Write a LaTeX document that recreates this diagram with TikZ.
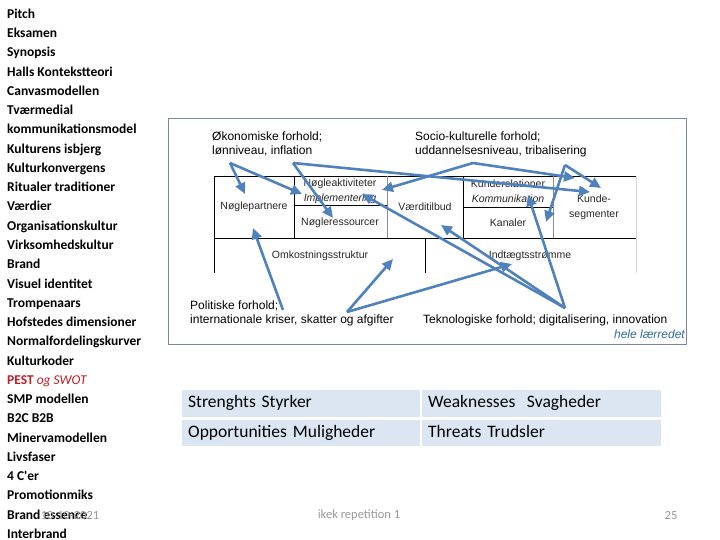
\documentclass[tikz,border=0pt]{standalone}
\usepackage{fontspec}
\setmainfont{Liberation Sans}
\newfontfamily\calib{Carlito}
\usetikzlibrary{arrows.meta}
\definecolor{pilblaa}{RGB}{79,129,189}
\definecolor{rammegraa}{RGB}{120,135,155}
\definecolor{swotfyld}{RGB}{220,230,242}
\definecolor{pestrod}{RGB}{192,30,40}
\definecolor{laerred}{RGB}{49,110,150}
\tikzset{
  pil/.style={draw=pilblaa, line width=2.6pt, -{Triangle[length=11pt,width=10pt]}},
  emne/.style={anchor=base west, inner sep=0pt, font=\calib\bfseries\fontsize{13.5}{14}\selectfont},
  faktor/.style={anchor=west, inner sep=0pt, align=left, font=\fontsize{12}{14}\selectfont},
  felt/.style={inner sep=0pt, align=center, text=black!85, font=\fontsize{10.5}{15}\selectfont},
  swot/.style={fill=swotfyld, anchor=north west, text width=226pt, inner xsep=6pt, inner ysep=0pt,
    minimum height=27pt, text height=12pt, text depth=4pt, font=\calib\fontsize{17.5}{20}\selectfont},
  fod/.style={inner sep=0pt, text=black!40, font=\calib\fontsize{12.5}{14}\selectfont},
}
\begin{document}
\begin{tikzpicture}[x=1pt,y=-1pt]
  \useasboundingbox (0,0) rectangle (720,540);

  % emneliste
  \foreach \emnetekst [count=\i from 0] in {Pitch, Eksamen, Synopsis, Halls Kontekstteori,
      Canvasmodellen, Tværmedial, kommunikationsmodel, Kulturens isbjerg, Kulturkonvergens,
      Ritualer traditioner, Værdier, Organisationskultur, Virksomhedskultur, Brand,
      Visuel identitet, Trompenaars, Hofstedes dimensioner, Normalfordelingskurver,
      Kulturkoder, {{\color{pestrod}PEST \mdseries\itshape og SWOT}}, SMP modellen,
      B2C B2B, Minervamodellen, Livsfaser, 4 C'er, Promotionmiks, Brand essence, Interbrand}
    \node[emne] (emne\i) at (7,{18.5+19.25*\i}) {\emnetekst};

  % ramme om PEST
  \draw[rammegraa, line width=1pt] (168,119) rectangle (686,344);

  % canvas
  \draw[black, line width=0.8pt] (214,273) -- (214,176) -- (636,176);
  \draw[black, line width=0.8pt] (214,238) -- (636,238);
  \draw[black, line width=0.8pt] (294,176) -- (294,238);
  \draw[black, line width=1pt] (294,206) -- (387,206);
  \draw[black!45, line width=0.8pt] (387,176) -- (387,238);
  \draw[black, line width=0.8pt] (463,176) -- (463,238);
  \draw[black, line width=0.8pt] (463,207) -- (553,207);
  \draw[black!45, line width=0.8pt] (553,176) -- (553,238);
  \draw[black!15, line width=0.8pt] (636,176) -- (636,273);
  \draw[black, line width=0.8pt] (425,238) -- (425,273);

  \node[felt] (partnere) at (254,207) {Nøglepartnere};
  \node[felt] (aktiviteter) at (340,191) {Nøgleaktiviteter\\\textit{Implementering}};
  \node[felt] (ressourcer) at (340,223) {Nøgleressourcer};
  \node[felt] (tilbud) at (425,207) {Værditilbud};
  \node[felt] (relationer) at (508,191) {Kunderelationer\\\textit{Kommunikation}};
  \node[felt] (kanaler) at (508,223) {Kanaler};
  \node[felt] (segmenter) at (594,207) {Kunde-\\segmenter};
  \node[felt] (omkostninger) at (320,256) {Omkostningsstruktur};
  \node[felt] (indtaegter) at (530,256) {Indtægtsstrømme};

  % PEST-faktorer
  \node[faktor] (oekonomi) at (212,144) {Økonomiske forhold;\\lønniveau, inflation};
  \node[faktor] (socio) at (415,144) {Socio-kulturelle forhold;\\uddannelsesniveau, tribalisering};
  \node[faktor] (politik) at (190,313) {Politiske forhold;\\internationale kriser, skatter og afgifter};
  \node[faktor] (teknologi) at (423,320) {Teknologiske forhold; digitalisering, innovation};
  \node[faktor, anchor=east, text=laerred, font=\fontsize{12}{14}\selectfont\itshape] (laerredet) at (685,334) {hele lærredet};

  % pile
  \coordinate (oekA) at (230,163);
  \coordinate (oekB) at (293,163);
  \coordinate (socA) at (473,163);
  \coordinate (socB) at (565,165);
  \coordinate (polA) at (283,310);
  \coordinate (polB) at (347,312);
  \coordinate (tekA) at (565,308);
  \coordinate (tPartnere) at (245,194);
  \coordinate (tImplA) at (302,194);
  \coordinate (tRessourcer) at (333,218);
  \coordinate (tSegmA) at (590,192);
  \coordinate (tAktiv) at (382,190);
  \coordinate (tSegmB) at (575,178);
  \coordinate (tKanaler) at (546,222);
  \coordinate (tSegmC) at (601,188);
  \coordinate (tPartnereB) at (253,228);
  \coordinate (tOmkost) at (393,259);
  \coordinate (tIndt) at (512,264);
  \coordinate (tTilbud) at (441,225);
  \coordinate (tImplB) at (362,194);
  \coordinate (tKomm) at (528,195);

  \draw[pil] (oekA) -- (tPartnere);
  \draw[pil] (oekA) -- (tImplA);
  \draw[pil] (oekB) -- (tRessourcer);
  \draw[pil] (oekB) -- (tSegmA);
  \draw[pil] (socA) -- (tAktiv);
  \draw[pil] (socA) -- (tSegmB);
  \draw[pil] (socB) -- (tKanaler);
  \draw[pil] (socB) -- (tSegmC);
  \draw[pil] (polA) -- (tPartnereB);
  \draw[pil] (polB) -- (tOmkost);
  \draw[pil] (polB) -- (tIndt);
  \draw[pil] (tekA) -- (tTilbud);
  \draw[pil] (tekA) -- (tImplB);
  \draw[pil] (tekA) -- (tKomm);

  % SWOT
  \node[swot] (styrker) at (182,390) {Strenghts Styrker};
  \node[swot, text width=227pt] (svagheder) at (422,390) {Weaknesses\ \ Svagheder};
  \node[swot, minimum height=26pt] (muligheder) at (182,420) {Opportunities Muligheder};
  \node[swot, text width=227pt, minimum height=26pt] (trusler) at (422,420) {Threats Trudsler};

  % sidefod
  \node[fod] (dato) at (70,515) {10-10-2021};
  \node[fod] (titel) at (359,515) {ikek repetition 1};
  \node[fod] (side) at (671,515) {25};
\end{tikzpicture}
\end{document}
